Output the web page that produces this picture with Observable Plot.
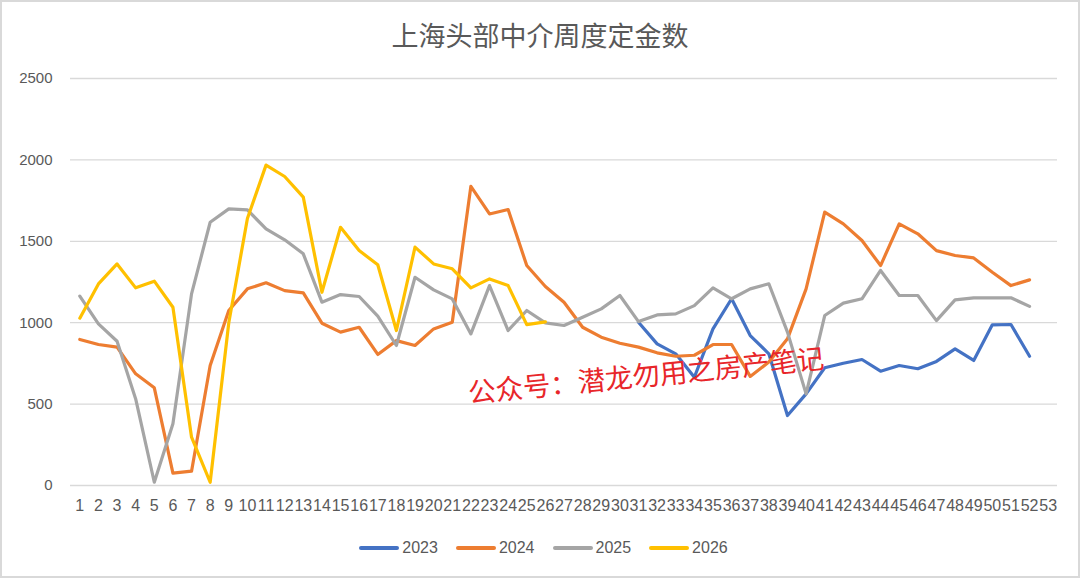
<!DOCTYPE html>
<html>
<head>
<meta charset="utf-8">
<script src="https://cdn.jsdelivr.net/npm/d3@7"></script>
<script src="https://cdn.jsdelivr.net/npm/@observablehq/plot@0.6"></script>
<style>
  html, body { margin: 0; padding: 0; background: #fff; }
  #wrap { position: relative; width: 1080px; height: 578px; overflow: hidden; background: #fff; font-family: "Liberation Sans", "Noto Sans CJK SC", sans-serif; }
  #frame { position: absolute; left: 0; top: 0; width: 1080px; height: 578px; box-sizing: border-box; border: 2px solid #d9d9d9; pointer-events: none; }
  #title { position: absolute; left: 0; top: 14px; width: 1080px; height: 42px; line-height: 42px; text-align: center; font-family: "Noto Sans CJK SC", sans-serif; font-size: 27px; color: #595959; }
  #chart { position: absolute; left: 0; top: 60px; }
  #legend { position: absolute; left: 0; top: 536px; width: 1080px; height: 24px; display: flex; justify-content: center; align-items: center; padding-left: 7px; box-sizing: border-box; }
  .item { display: flex; align-items: center; margin: 0 9px; font-size: 16px; color: #595959; }
  .sw { width: 40px; height: 4px; border-radius: 2px; margin-right: 3px; }
  #wm { position: absolute; left: 468px; top: 373px; line-height: 36px; font-family: "Noto Sans CJK SC", sans-serif; font-size: 27.5px; color: #e8262a; transform-origin: left center; transform: rotate(-5.6deg); white-space: nowrap; }
</style>
</head>
<body>
<div id="wrap">
  <div id="title"></div>
  <div id="chart"></div>
  <div id="legend"></div>
  <div id="wm"></div>
  <div id="frame"></div>
</div>
<script>
const titleText = "上海头部中介周度定金数";
const watermark = "公众号：潜龙勿用之房产笔记";
const years = ["2023", "2024", "2025", "2026"];
const colors = ["#4472C4", "#ED7D31", "#A5A5A5", "#FFC000"];
const weeks = d3.range(1, 54);
const yTicks = [0, 500, 1000, 1500, 2000, 2500];

// 2023 starts at week 31
const start2023 = 31;
const s2023 = [1003, 870, 809, 665, 962, 1147, 921, 809, 430, 563, 723, 751, 774, 702, 737, 717, 762, 839, 768, 987, 989, 794];
const s2024 = [897, 866, 850, 686, 600, 76, 88, 737, 1075, 1208, 1245, 1197, 1183, 997, 942, 972, 805, 890, 860, 962, 1003, 1838, 1668, 1695, 1351, 1222, 1126, 972, 911, 874, 850, 815, 794, 800, 866, 866, 670, 758, 901, 1208, 1679, 1607, 1505, 1351, 1607, 1546, 1443, 1413, 1398, 1310, 1228, 1263];
const s2025 = [1163, 993, 886, 532, 20, 379, 1177, 1617, 1699, 1693, 1576, 1509, 1423, 1126, 1173, 1161, 1040, 860, 1279, 1202, 1146, 931, 1228, 952, 1075, 999, 983, 1034, 1085, 1167, 1007, 1048, 1054, 1105, 1214, 1147, 1208, 1239, 942, 563, 1044, 1120, 1147, 1321, 1167, 1167, 1013, 1140, 1153, 1153, 1153, 1100];
const s2026 = [1028, 1238, 1361, 1214, 1255, 1095, 297, 20, 1000, 1640, 1968, 1898, 1771, 1187, 1586, 1443, 1356, 952, 1464, 1361, 1331, 1214, 1269, 1228, 988, 1005];

const seriesList = [
  {year: "2023", start: start2023, values: s2023},
  {year: "2024", start: 1, values: s2024},
  {year: "2025", start: 1, values: s2025},
  {year: "2026", start: 1, values: s2026}
];
const rows = [];
for (const s of seriesList) {
  s.values.forEach((v, i) => rows.push({year: s.year, week: s.start + i, value: v}));
}

document.getElementById("title").textContent = titleText;
document.getElementById("wm").textContent = watermark;

const chart = Plot.plot({
  width: 1080,
  height: 470,
  marginLeft: 70,
  marginRight: 23,
  marginTop: 18,
  marginBottom: 45,
  style: {fontFamily: "Liberation Sans, sans-serif", background: "transparent", overflow: "visible"},
  x: {type: "linear", domain: [0.5, 53.5]},
  y: {domain: [0, 2500]},
  color: {domain: years, range: colors},
  marks: [
    Plot.ruleY(yTicks, {stroke: "#d9d9d9", strokeWidth: 1.3}),
    Plot.line(rows, {x: "week", y: "value", z: "year", stroke: "year", strokeWidth: 3.2, strokeLinejoin: "round", strokeLinecap: "round"}),
    Plot.axisY(yTicks, {tickSize: 0, tickPadding: 18, fontSize: 15, fill: "#595959", label: null, tickFormat: d => String(d)}),
    Plot.axisX(weeks, {tickSize: 0, tickPadding: 14, fontSize: 16, fill: "#595959", label: null, tickFormat: d => String(d)})
  ]
});
document.getElementById("chart").appendChild(chart);

const legend = document.getElementById("legend");
years.forEach((y, i) => {
  const item = document.createElement("div");
  item.className = "item";
  const sw = document.createElement("div");
  sw.className = "sw";
  sw.style.background = colors[i];
  const t = document.createElement("span");
  t.textContent = y;
  item.appendChild(sw);
  item.appendChild(t);
  legend.appendChild(item);
});
</script>
</body>
</html>
